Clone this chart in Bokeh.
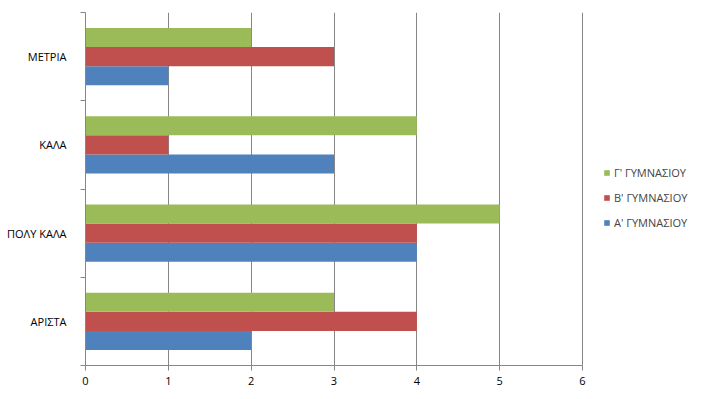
from bokeh.plotting import figure
from bokeh.models import Range1d, FixedTicker, Legend, LegendItem, ColumnDataSource
from bokeh.embed import file_html
from bokeh.resources import INLINE

categories = ["ΑΡΙΣΤΑ", "ΠΟΛΥ ΚΑΛΑ", "ΚΑΛΑ", "ΜΕΤΡΙΑ"]
series_names = ["Α' ΓΥΜΝΑΣΙΟΥ", "Β' ΓΥΜΝΑΣΙΟΥ", "Γ' ΓΥΜΝΑΣΙΟΥ"]
series_a = [2, 4, 3, 1]
series_b = [4, 4, 1, 3]
series_g = [3, 5, 4, 2]
x_ticks = [0, 1, 2, 3, 4, 5, 6]

colors = ["#4F81BD", "#C0504D", "#9BBB59"]
offsets = [-0.217, 0.0, 0.217]
bar_h = 0.217
FONT = "Open Sans"
FSIZE = "11px"
GRAY = "#868686"

# frame spans to the right edge; axis/grid limited to 0..6 via bounds
x_max = 6 * (709 - 85) / 497.0

p = figure(width=709, height=399, output_backend="svg", toolbar_location=None,
           x_range=Range1d(0, x_max), y_range=Range1d(0, len(categories)),
           min_border_left=85, min_border_right=0, min_border_top=12, min_border_bottom=34)
p.outline_line_color = None
p.background_fill_color = "white"
p.border_fill_color = "white"

renderers = []
centers = [i + 0.5 for i in range(len(categories))]
for vals, col, off in zip([series_a, series_b, series_g], colors, offsets):
    src = ColumnDataSource(dict(y=[c + off for c in centers], right=vals, cat=categories))
    r = p.hbar(y="y", left=0, right="right", height=bar_h, source=src,
               fill_color=col, line_color=None)
    renderers.append(r)

# x axis
p.xaxis.ticker = FixedTicker(ticks=x_ticks)
p.xaxis.bounds = (0, 6)
p.xaxis.axis_line_color = GRAY
p.xaxis.major_tick_line_color = GRAY
p.xaxis.major_tick_out = 5
p.xaxis.major_tick_in = 0
p.xaxis.minor_tick_line_color = None
p.xaxis.major_label_text_font = FONT
p.xaxis.major_label_text_font_size = FSIZE
p.xaxis.major_label_text_color = "black"
p.xaxis.major_label_standoff = 6

# y axis
p.yaxis.ticker = FixedTicker(ticks=centers, minor_ticks=list(range(len(categories) + 1)))
p.yaxis.major_label_overrides = {c: n for c, n in zip(centers, categories)}
p.yaxis.axis_line_color = GRAY
p.yaxis.major_tick_line_color = None
p.yaxis.major_tick_out = 0
p.yaxis.major_tick_in = 0
p.yaxis.minor_tick_line_color = GRAY
p.yaxis.minor_tick_out = 5
p.yaxis.minor_tick_in = 0
p.yaxis.major_label_text_font = FONT
p.yaxis.major_label_text_font_size = FSIZE
p.yaxis.major_label_text_color = "black"
p.yaxis.major_label_standoff = 14

p.xgrid.grid_line_color = GRAY
p.xgrid.ticker = FixedTicker(ticks=x_ticks)
p.xgrid.bounds = (0, 6)
p.ygrid.grid_line_color = None

items = [LegendItem(label=series_names[i], renderers=[renderers[i]]) for i in [2, 1, 0]]
legend = Legend(items=items, location=(518, 133), orientation="vertical",
                border_line_color=None, background_fill_alpha=0,
                label_text_font=FONT, label_text_font_size=FSIZE,
                glyph_width=7, glyph_height=7, label_height=20, spacing=5,
                padding=0, margin=0, label_standoff=4)
p.add_layout(legend, "center")

open("out.html", "w").write(file_html(p, INLINE))
